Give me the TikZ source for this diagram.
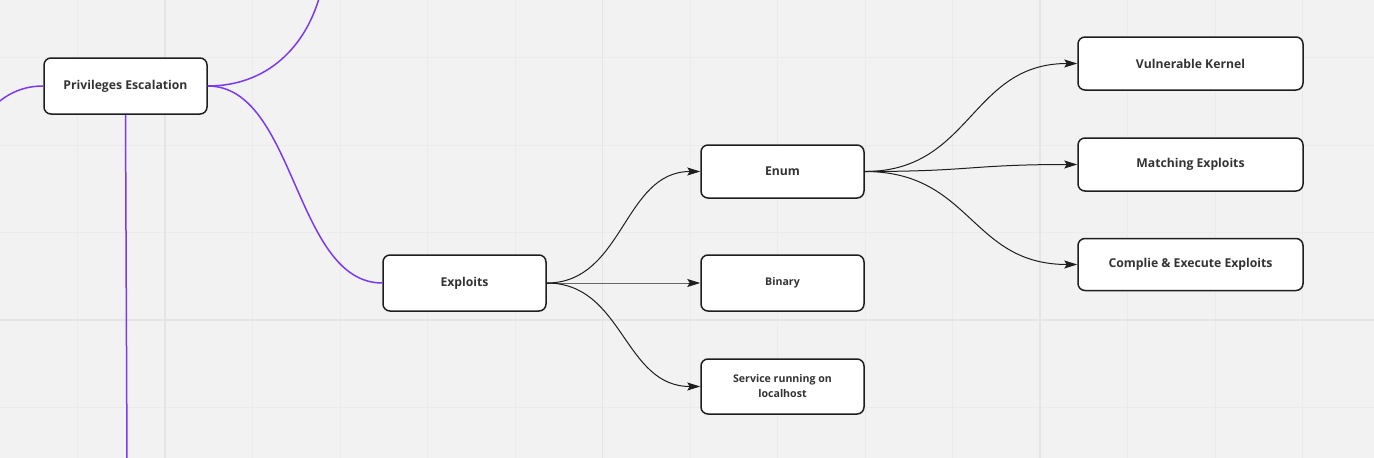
\documentclass[tikz,border=0pt]{standalone}
\usepackage{fontspec}
\setmainfont{Open Sans}
\usetikzlibrary{arrows.meta}
\definecolor{bgc}{HTML}{F2F2F2}
\definecolor{gridminor}{HTML}{EBEBEB}
\definecolor{gridmajor}{HTML}{E5E5E5}
\definecolor{purp}{RGB}{122,58,242}
\definecolor{boxline}{HTML}{1E1E1E}
\definecolor{txt}{HTML}{333333}
\definecolor{edgec}{HTML}{1E1E1E}
\tikzset{
  box/.style={draw=boxline, line width=1.5pt, fill=white, rounded corners=7pt,
    minimum width=163pt, minimum height=56pt, inner sep=2pt, align=center,
    text=txt, font=\fontsize{12.2}{15}\selectfont\bfseries},
  widebox/.style={box, minimum width=225pt, minimum height=53pt},
  smalltext/.style={font=\fontsize{10.6}{15}\selectfont\bfseries},
  purpline/.style={draw=purp, line width=1.5pt},
  arrowline/.style={draw=edgec, line width=1pt, -{Stealth[length=13pt,width=8pt,inset=2.5pt]}},
}
\begin{document}
\begin{tikzpicture}[x=1pt,y=-1pt]
\useasboundingbox (0,0) rectangle (1374,458);
\fill[bgc] (0,0) rectangle (1374,458);
% grid
\foreach \gx in {77.5,252.5,340,427.5,515,690,777.5,865,952.5,1127.5,1215,1302.5}
  \draw[gridminor, line width=1pt] (\gx,0) -- (\gx,458);
\foreach \gy in {57.5,145,232.5,407.5}
  \draw[gridminor, line width=1pt] (0,\gy) -- (1374,\gy);
\foreach \gx in {165,602.5,1040}
  \draw[gridmajor, line width=1.6pt] (\gx,0) -- (\gx,458);
\draw[gridmajor, line width=1.6pt] (0,320) -- (1374,320);

% nodes
\node[box] (priv) at (125.5,86) {Privileges Escalation};
\node[box] (expl) at (464.5,283) {Exploits};
\node[box, minimum height=53pt] (enum) at (782.5,171.5) {Enum};
\node[box, smalltext] (binary) at (782.5,283) {Binary};
\node[box, smalltext, minimum height=55pt] (service) at (782.5,386.5) {Service running on\\localhost};
\node[widebox] (kernel) at (1190.5,63.5) {Vulnerable Kernel};
\node[widebox] (match) at (1190.5,164.5) {Matching Exploits};
\node[widebox, minimum height=52pt] (comp) at (1190.5,264.5) {Complie \& Execute Exploits};

% off-frame ends
\coordinate (leftend) at (-8,108);
\coordinate (topend) at (320,-5);
\coordinate (bottomend) at (127,462);

% purple connectors
\begin{scope}
\clip (0,0) rectangle (1374,458);
\draw[purpline] (leftend) .. controls (8,92) and (25,86) .. (priv.west);
\draw[purpline] (priv.east) .. controls (268,86) and (306,46) .. (topend);
\draw[purpline] (priv.east) .. controls +(88,0) and +(-88,0) .. (expl.west);
\draw[purpline] (priv.south) -- (bottomend);
\end{scope}

% black arrows
\draw[arrowline] (expl.east) .. controls +(77,0) and +(-77,0) .. (enum.west);
\draw[arrowline] (expl.east) .. controls +(77,0) and +(-77,0) .. (binary.west);
\draw[arrowline] (expl.east) .. controls +(77,0) and +(-77,0) .. (service.west);
\draw[arrowline] (enum.east) .. controls +(107,0) and +(-107,0) .. (kernel.west);
\draw[arrowline] (enum.east) .. controls +(107,0) and +(-107,0) .. (match.west);
\draw[arrowline] (enum.east) .. controls +(107,0) and +(-107,0) .. (comp.west);
\end{tikzpicture}
\end{document}
